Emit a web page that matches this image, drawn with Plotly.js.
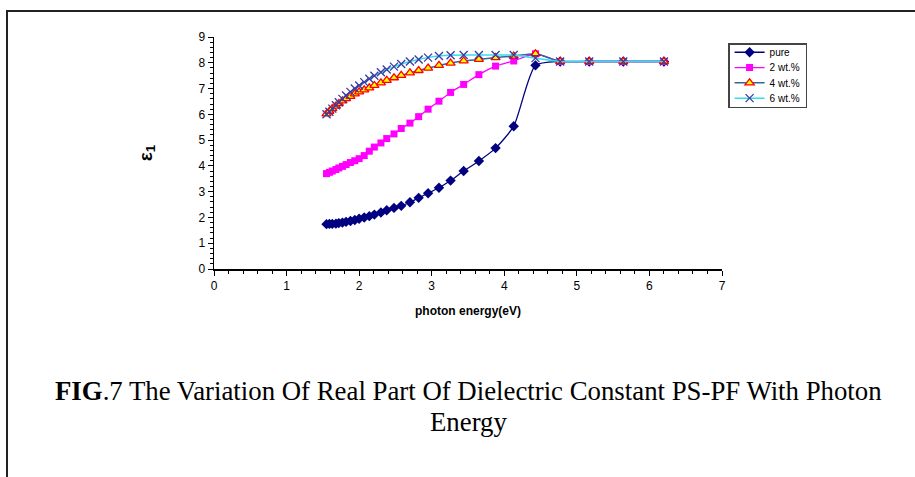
<!DOCTYPE html>
<html>
<head>
<meta charset="utf-8">
<script src="https://cdn.plot.ly/plotly-3.0.1.min.js"></script>
<style>
  html, body { margin: 0; padding: 0; background: #ffffff; }
  #wrap { position: relative; width: 915px; height: 477px; overflow: hidden; }
  #chart { position: absolute; left: 0; top: 0; width: 915px; height: 477px; }
  #frame { position: absolute; left: 6px; top: 10px; width: 920px; height: 480px;
           border-left: 2px solid #222; border-top: 2px solid #222; pointer-events: none; }
</style>
</head>
<body>
<div id="wrap">
  <div id="chart"></div>
  <div id="frame"></div>
</div>
<script>
// photon energy (eV)
const energy = [1.55, 1.59, 1.63, 1.68, 1.72, 1.77, 1.82, 1.88, 1.94, 2.00,
                2.07, 2.14, 2.21, 2.30, 2.38, 2.48, 2.58, 2.70, 2.82, 2.95,
                3.10, 3.26, 3.44, 3.65, 3.88, 4.13, 4.43, 4.77, 5.17, 5.64, 6.20];

// real part of dielectric constant, epsilon_1
const pure  = [1.74, 1.75, 1.75, 1.76, 1.78, 1.80, 1.83, 1.86, 1.90, 1.95,
               2.00, 2.05, 2.11, 2.19, 2.28, 2.37, 2.45, 2.59, 2.76, 2.94,
               3.15, 3.43, 3.80, 4.19, 4.69, 5.54, 7.90, 8.05, 8.05, 8.05, 8.05];
const wt2   = [3.70, 3.75, 3.80, 3.86, 3.92, 3.98, 4.05, 4.13, 4.20, 4.28,
               4.40, 4.57, 4.73, 4.89, 5.06, 5.24, 5.45, 5.66, 5.91, 6.20,
               6.51, 6.85, 7.16, 7.54, 7.87, 8.07, 8.35, 8.05, 8.05, 8.05, 8.05];
const wt4   = [6.02, 6.12, 6.22, 6.32, 6.42, 6.52, 6.61, 6.70, 6.79, 6.87,
               6.95, 7.03, 7.12, 7.22, 7.32, 7.42, 7.51, 7.61, 7.70, 7.79,
               7.90, 7.99, 8.07, 8.13, 8.20, 8.26, 8.35, 8.05, 8.05, 8.05, 8.05];
const wt6   = [6.00, 6.10, 6.22, 6.35, 6.47, 6.60, 6.73, 6.87, 7.00, 7.12,
               7.25, 7.38, 7.50, 7.63, 7.74, 7.85, 7.95, 8.05, 8.13, 8.20,
               8.26, 8.29, 8.30, 8.30, 8.30, 8.30, 8.18, 8.05, 8.05, 8.05, 8.05];

const seriesNames = ['pure', '2 wt.%', '4 wt.%', '6 wt.%'];
const xTicks = [0, 1, 2, 3, 4, 5, 6, 7];
const yTicks = [0, 1, 2, 3, 4, 5, 6, 7, 8, 9];

const captionLine1 = '<b>FIG</b>.7 The Variation Of Real Part Of Dielectric Constant PS-PF With Photon';
const captionLine2 = 'Energy';

const traces = [
  {
    x: energy, y: pure, name: seriesNames[0], type: 'scatter', mode: 'lines+markers',
    line: { color: '#000080', width: 1.3, shape: 'spline', smoothing: 0.6 },
    marker: { symbol: 'diamond', size: 8, color: '#000080', line: { width: 0 } }
  },
  {
    x: energy, y: wt2, name: seriesNames[1], type: 'scatter', mode: 'lines+markers',
    line: { color: '#FF00FF', width: 1.3, shape: 'spline', smoothing: 0.6 },
    marker: { symbol: 'square', size: 7, color: '#FF00FF', line: { width: 0 } }
  },
  {
    x: energy, y: wt4, name: seriesNames[2], type: 'scatter', mode: 'lines+markers',
    line: { color: '#336699', width: 1.5, shape: 'spline', smoothing: 0.6 },
    marker: { symbol: 'triangle-up', size: 8, color: '#FFFF00', line: { width: 1.3, color: '#FF0000' } }
  },
  {
    x: energy, y: wt6, name: seriesNames[3], type: 'scatter', mode: 'lines+markers',
    line: { color: '#33DDEE', width: 1.5, shape: 'spline', smoothing: 0.6 },
    marker: { symbol: 'x-thin-open', size: 8, color: '#3A3AA0', line: { width: 1.3, color: '#3A3AA0' } }
  }
];

const axisFont = { family: 'Liberation Sans, Arial, sans-serif', size: 12, color: '#000' };

const layout = {
  width: 915, height: 477,
  paper_bgcolor: '#ffffff', plot_bgcolor: '#ffffff',
  margin: { l: 213.5, r: 193, t: 36.7, b: 207.7, pad: 0 },
  showlegend: true,
  legend: {
    x: 1.012, y: 0.973, xanchor: 'left', yanchor: 'top',
    bgcolor: '#ffffff', bordercolor: '#444', borderwidth: 1.5,
    font: { family: 'Liberation Sans, Arial, sans-serif', size: 10, color: '#000' },
    itemwidth: 30, tracegroupgap: 0
  },
  xaxis: {
    range: [0, 7], tickvals: xTicks, ticktext: xTicks.map(String),
    ticks: 'outside', ticklen: 5, tickwidth: 1, tickcolor: '#000',
    showline: true, linecolor: '#000', linewidth: 1.5,
    showgrid: false, zeroline: false, tickfont: axisFont,
    minor: { dtick: 0.2, ticks: 'outside', ticklen: 3, tickcolor: '#000', tickwidth: 1, showgrid: false },
    title: { text: 'photon energy(eV)', standoff: 14,
             font: { family: 'Liberation Sans, Arial, sans-serif', size: 12, color: '#000', weight: 'bold' } },
    fixedrange: true
  },
  yaxis: {
    range: [0, 9], tickvals: yTicks, ticktext: yTicks.map(String),
    ticks: 'outside', ticklen: 5, tickwidth: 1, tickcolor: '#000',
    showline: true, linecolor: '#000', linewidth: 1.5,
    showgrid: false, zeroline: false, tickfont: axisFont,
    minor: { dtick: 0.2, ticks: 'outside', ticklen: 3, tickcolor: '#000', tickwidth: 1, showgrid: false },
    title: { text: 'ε<sub>1</sub>', standoff: 41,
             font: { family: 'Liberation Sans, Arial, sans-serif', size: 19, color: '#000', weight: 'bold' } },
    fixedrange: true
  },
  annotations: [
    { text: captionLine1, xref: 'paper', yref: 'paper', x: 0.5, y: -0.527,
      xanchor: 'center', yanchor: 'middle', showarrow: false,
      font: { family: 'Liberation Serif, Times New Roman, serif', size: 26.8, color: '#000' } },
    { text: captionLine2, xref: 'paper', yref: 'paper', x: 0.5, y: -0.661,
      xanchor: 'center', yanchor: 'middle', showarrow: false,
      font: { family: 'Liberation Serif, Times New Roman, serif', size: 26.8, color: '#000' } }
  ]
};

Plotly.newPlot('chart', traces, layout, { displayModeBar: false, staticPlot: true }).then(function (gd) {
  // tighten legend rows to the reference's spacing
  const items = gd.querySelectorAll('.legend .traces');
  if (items.length < 2) return;
  const parse = function (el) {
    const m = /translate\(\s*([-\d.]+)[ ,]+([-\d.]+)\s*\)/.exec(el.getAttribute('transform') || '');
    return m ? [parseFloat(m[1]), parseFloat(m[2])] : null;
  };
  const p0 = parse(items[0]);
  const p1 = parse(items[1]);
  if (!p0 || !p1) return;
  const oldGap = p1[1] - p0[1];
  const newGap = 15.3;
  const shiftTop = -7;
  items.forEach(function (el, i) {
    const p = parse(el);
    if (p) el.setAttribute('transform', 'translate(' + p[0] + ',' + (p0[1] + shiftTop + i * newGap) + ')');
  });
  const bg = gd.querySelector('.legend .bg');
  if (bg) {
    const h = parseFloat(bg.getAttribute('height'));
    bg.setAttribute('height', h - (items.length - 1) * (oldGap - newGap) - 13);
  }
});
</script>
</body>
</html>
